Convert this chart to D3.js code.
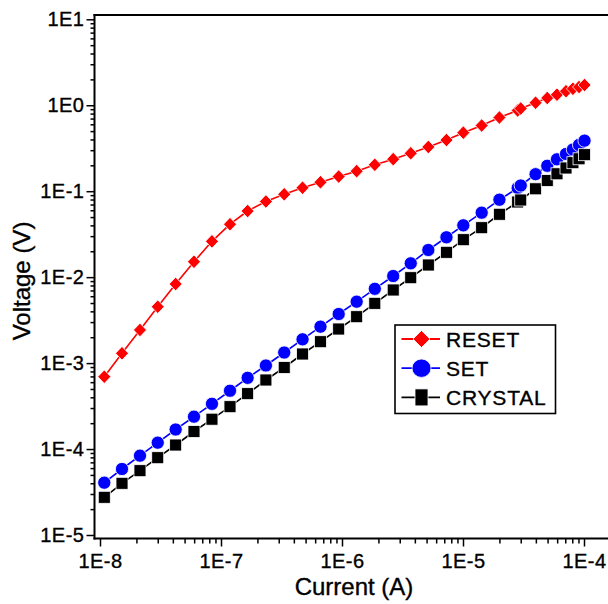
<!DOCTYPE html>
<html>
<head>
<meta charset="utf-8">
<script src="https://cdn.jsdelivr.net/npm/d3@7/dist/d3.min.js"></script>
<style>
  html, body { margin: 0; padding: 0; background: #fff; }
  svg { display: block; font-family: "Liberation Sans", Arial, sans-serif; }
  text { stroke: #000; stroke-width: 0.35px; fill: #000; }
</style>
</head>
<body>
<svg id="chart" width="608" height="604"></svg>
<script>
// ---- data ----
const current = [1.085e-8, 1.52e-8, 2.14e-8, 3.0e-8, 4.22e-8, 5.98e-8, 8.42e-8, 1.187e-7,
  1.66e-7, 2.35e-7, 3.33e-7, 4.72e-7, 6.64e-7, 9.39e-7, 1.322e-6, 1.867e-6,
  2.65e-6, 3.70e-6, 5.17e-6, 7.30e-6, 1.006e-5, 1.427e-5, 2.0e-5, 2.83e-5,
  3.0e-5, 3.98e-5, 4.97e-5, 5.98e-5, 7.1e-5, 8.1e-5, 9.1e-5, 1.01e-4];
const resetV = [6.95e-4, 1.30e-3, 2.43e-3, 4.53e-3, 8.32e-3, 1.51e-2, 2.61e-2, 4.13e-2,
  5.88e-2, 7.59e-2, 9.20e-2, 0.1099, 0.127, 0.148, 0.171, 0.203,
  0.236, 0.276, 0.327, 0.394, 0.480, 0.581, 0.720, 0.869,
  0.916, 1.071, 1.214, 1.327, 1.457, 1.554, 1.630, 1.72];
const setV = [4.06e-5, 5.86e-5, 8.37e-5, 1.186e-4, 1.688e-4, 2.38e-4, 3.36e-4, 4.77e-4,
  6.74e-4, 9.38e-4, 1.328e-3, 1.891e-3, 2.652e-3, 3.726e-3, 5.18e-3, 7.32e-3,
  1.031e-2, 1.449e-2, 2.07e-2, 2.91e-2, 4.01e-2, 5.62e-2, 7.96e-2, 0.1089,
  0.1165, 0.1577, 0.1975, 0.235, 0.271, 0.3056, 0.345, 0.387];
const crystalV = [2.746e-5, 3.996e-5, 5.60e-5, 7.93e-5, 1.114e-4, 1.60e-4, 2.225e-4, 3.11e-4,
  4.41e-4, 6.36e-4, 8.89e-4, 1.276e-3, 1.774e-3, 2.492e-3, 3.465e-3, 4.96e-3,
  7.09e-3, 9.85e-3, 1.385e-2, 1.946e-2, 2.727e-2, 3.76e-2, 5.39e-2, 7.49e-2,
  7.90e-2, 0.1066, 0.1332, 0.1594, 0.1862, 0.2146, 0.2382, 0.2659];
const seriesNames = ["RESET", "SET", "CRYSTAL"];
const xMajorTicks = [1e-8, 1e-7, 1e-6, 1e-5, 1e-4];
const xTickLabels = ["1E-8", "1E-7", "1E-6", "1E-5", "1E-4"];
const yMajorTicks = [1e1, 1e0, 1e-1, 1e-2, 1e-3, 1e-4, 1e-5];
const yTickLabels = ["1E1", "1E0", "1E-1", "1E-2", "1E-3", "1E-4", "1E-5"];
const xTitle = "Current (A)";
const yTitle = "Voltage (V)";

// ---- layout ----
const svg = d3.select("#chart");
const frameL = 94.5, frameT = 15, frameB = 538.5, frameR = 612;
const x = d3.scaleLog().domain([1e-8, 1e-4]).range([100, 584]);
const y = d3.scaleLog().domain([1e1, 1e-5]).range([19.3, 535]);

function minorsOf(majors) {
  const out = [];
  const lo = d3.min(majors), hi = d3.max(majors);
  for (let e = Math.round(Math.log10(lo)); e < Math.round(Math.log10(hi)); e++) {
    for (let m = 2; m <= 9; m++) out.push(m * Math.pow(10, e));
  }
  return out;
}
const labelOf = (ticks, labels) => d => labels[ticks.findIndex(t => Math.abs(t - d) / t < 1e-6)];

// ---- axes ----
const gx = svg.append("g").attr("transform", `translate(0,${frameB})`);
gx.append("g").call(d3.axisBottom(x).tickValues(minorsOf(xMajorTicks)).tickSize(5).tickFormat(""));
gx.append("g").call(d3.axisBottom(x).tickValues(xMajorTicks).tickSize(8).tickPadding(7)
  .tickFormat(labelOf(xMajorTicks, xTickLabels)));
gx.selectAll(".domain").remove();
gx.selectAll("line").attr("stroke", "#000").attr("stroke-width", 1.5);
gx.selectAll("text").attr("font-size", 20).attr("fill", "#000").attr("letter-spacing", 0.5)
  .attr("font-family", "Liberation Sans, Arial, sans-serif");

const gy = svg.append("g").attr("transform", `translate(${frameL},0)`);
gy.append("g").call(d3.axisLeft(y).tickValues(minorsOf(yMajorTicks)).tickSize(4).tickFormat(""));
gy.append("g").call(d3.axisLeft(y).tickValues(yMajorTicks).tickSize(8).tickPadding(2)
  .tickFormat(labelOf(yMajorTicks, yTickLabels)));
gy.selectAll(".domain").remove();
gy.selectAll("line").attr("stroke", "#000").attr("stroke-width", 1.5);
gy.selectAll("text").attr("font-size", 20).attr("fill", "#000").attr("letter-spacing", 0.5)
  .attr("font-family", "Liberation Sans, Arial, sans-serif");

// frame lines
const frame = svg.append("g").attr("stroke", "#000").attr("stroke-width", 2).attr("fill", "none");
frame.append("line").attr("x1", frameL).attr("x2", frameL).attr("y1", frameT - 1).attr("y2", frameB + 1);
frame.append("line").attr("x1", frameL - 1).attr("x2", frameR).attr("y1", frameB).attr("y2", frameB);
frame.append("line").attr("x1", frameL - 1).attr("x2", frameR).attr("y1", frameT).attr("y2", frameT);

// axis titles
svg.append("text").attr("x", 354).attr("y", 595).attr("text-anchor", "middle")
  .attr("font-size", 24).text(xTitle);
svg.append("text").attr("transform", "translate(30,281) rotate(-90)").attr("text-anchor", "middle")
  .attr("font-size", 24).text(yTitle);

// ---- series ----
const series = [
  { name: seriesNames[0], vals: resetV, color: "#ff0000", shape: "diamond" },
  { name: seriesNames[1], vals: setV, color: "#0000ff", shape: "circle" },
  { name: seriesNames[2], vals: crystalV, color: "#000000", shape: "square" }
];
function drawMarker(g, shape, cx, cy, color, s) {
  if (shape === "diamond") {
    g.append("path").attr("d", `M${cx},${cy - s.h}L${cx + s.w},${cy}L${cx},${cy + s.h}L${cx - s.w},${cy}Z`)
      .attr("fill", color).attr("stroke", "#fff").attr("stroke-width", 0.8);
  } else if (shape === "circle") {
    g.append("ellipse").attr("cx", cx).attr("cy", cy).attr("rx", s.w).attr("ry", s.h)
      .attr("fill", color).attr("stroke", "#fff").attr("stroke-width", 0.8);
  } else {
    g.append("rect").attr("x", cx - s.w).attr("y", cy - s.h).attr("width", 2 * s.w).attr("height", 2 * s.h)
      .attr("fill", color).attr("stroke", "#fff").attr("stroke-width", 0.8);
  }
}
const plotSize = { diamond: { w: 6.5, h: 6.8 }, circle: { w: 6.6, h: 6.6 }, square: { w: 6, h: 6 } };
const line = d3.line().x(d => x(d[0])).y(d => y(d[1]));
series.forEach(s => {
  const pts = current.map((c, i) => [c, s.vals[i]]);
  const g = svg.append("g");
  g.append("path").datum(pts).attr("d", line).attr("fill", "none")
    .attr("stroke", s.color).attr("stroke-width", 1.6);
  pts.forEach(p => drawMarker(g, s.shape, x(p[0]), y(p[1]), s.color, plotSize[s.shape]));
});

// ---- legend ----
const leg = svg.append("g");
leg.append("rect").attr("x", 395).attr("y", 325).attr("width", 160.5).attr("height", 88.5)
  .attr("fill", "#fff").attr("stroke", "#000").attr("stroke-width", 1.6);
const legSize = { diamond: { w: 8.5, h: 8.5 }, circle: { w: 9.5, h: 9.2 }, square: { w: 6.5, h: 8.5 } };
series.forEach((s, i) => {
  const cy = 339 + i * 29.2;
  leg.append("line").attr("x1", 401.5).attr("x2", 440).attr("y1", cy).attr("y2", cy)
    .attr("stroke", s.color).attr("stroke-width", 1.8);
  drawMarker(leg, s.shape, 421.5, cy, s.color, legSize[s.shape]);
  leg.append("text").attr("x", 446).attr("y", cy + 7.8).attr("font-size", 21)
    .attr("letter-spacing", 0.8).text(s.name);
});
</script>
</body>
</html>
